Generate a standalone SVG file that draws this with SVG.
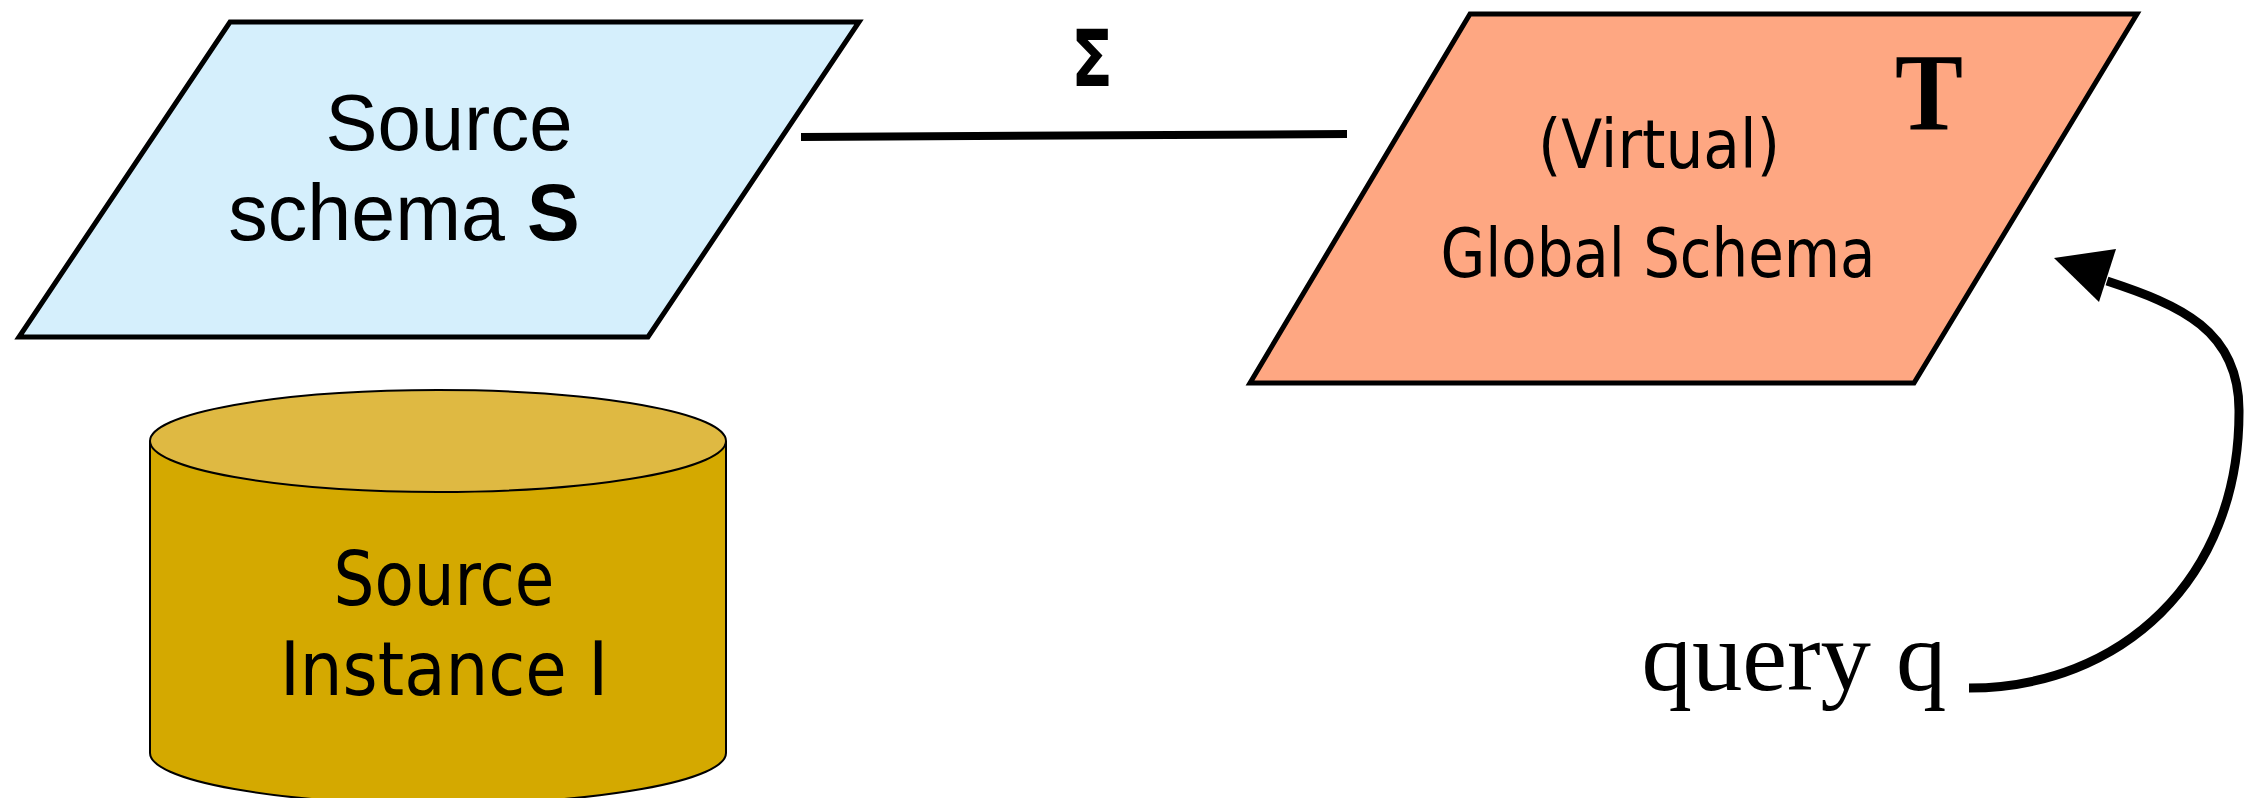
<svg xmlns="http://www.w3.org/2000/svg" width="2257" height="798" viewBox="0 0 2257 798">
<style>
.para{stroke:#000;stroke-width:5;stroke-linejoin:miter}
.sans{font-family:"Liberation Sans",Arial,sans-serif;fill:#000}
.tah{font-family:"DejaVu Sans Condensed","DejaVu Sans",sans-serif;fill:#000}
.serif{font-family:"Liberation Serif","Times New Roman",serif;fill:#000}
.conn{fill:none;stroke:#000}
</style>
<rect width="2257" height="798" fill="#fff"/>
<g id="source-schema">
<polygon class="para" points="230,22 859,22 648,337 19,337" fill="#d5effc"/>
<text class="sans" x="449" y="150" font-size="79" text-anchor="middle" textLength="247" lengthAdjust="spacingAndGlyphs">Source</text>
<text class="sans" x="404" y="240" font-size="79" text-anchor="middle">schema <tspan font-weight="bold">S</tspan></text>
</g>
<g id="global-schema">
<polygon class="para" points="1470,14 2137,14 1914,383 1250,383" fill="#fea782"/>
<text class="serif" x="1929" y="130" font-size="110" font-weight="bold" text-anchor="middle" textLength="68" lengthAdjust="spacingAndGlyphs">T</text>
<text class="tah" x="1659" y="168" font-size="67" text-anchor="middle" textLength="242" lengthAdjust="spacingAndGlyphs">(Virtual)</text>
<text class="tah" x="1658" y="277" font-size="67" text-anchor="middle" textLength="435" lengthAdjust="spacingAndGlyphs">Global Schema</text>
</g>
<g id="source-instance">
<path d="M150,441 L150,753 A288,51 0 0 0 726,753 L726,441" fill="#d4a900" stroke="#000" stroke-width="2"/>
<ellipse cx="438" cy="441" rx="288" ry="51" fill="#dfb942" stroke="#000" stroke-width="2"/>
<text class="tah" x="444" y="605" font-size="75" text-anchor="middle" textLength="221" lengthAdjust="spacingAndGlyphs">Source</text>
<text class="tah" x="444" y="695" font-size="75" text-anchor="middle" textLength="328" lengthAdjust="spacingAndGlyphs">Instance I</text>
</g>
<g id="sigma-label">
<text class="tah" x="1092" y="86" font-size="78" font-weight="bold" text-anchor="middle" textLength="42" lengthAdjust="spacingAndGlyphs">Σ</text>
</g>
<g id="query-label">
<text class="serif" x="1794" y="690" font-size="100" text-anchor="middle" textLength="305" lengthAdjust="spacingAndGlyphs">query q</text>
</g>
<g id="connectors">
<line class="conn" x1="801" y1="137" x2="1347" y2="134" stroke-width="8"/>
<path class="conn" d="M1969,688 C2120,688 2240,580 2239,410 C2239,330 2180,305 2107,281" stroke-width="9"/>
<polygon points="2054,258 2116,249 2099,302" fill="#000"/>
</g>
</svg>
